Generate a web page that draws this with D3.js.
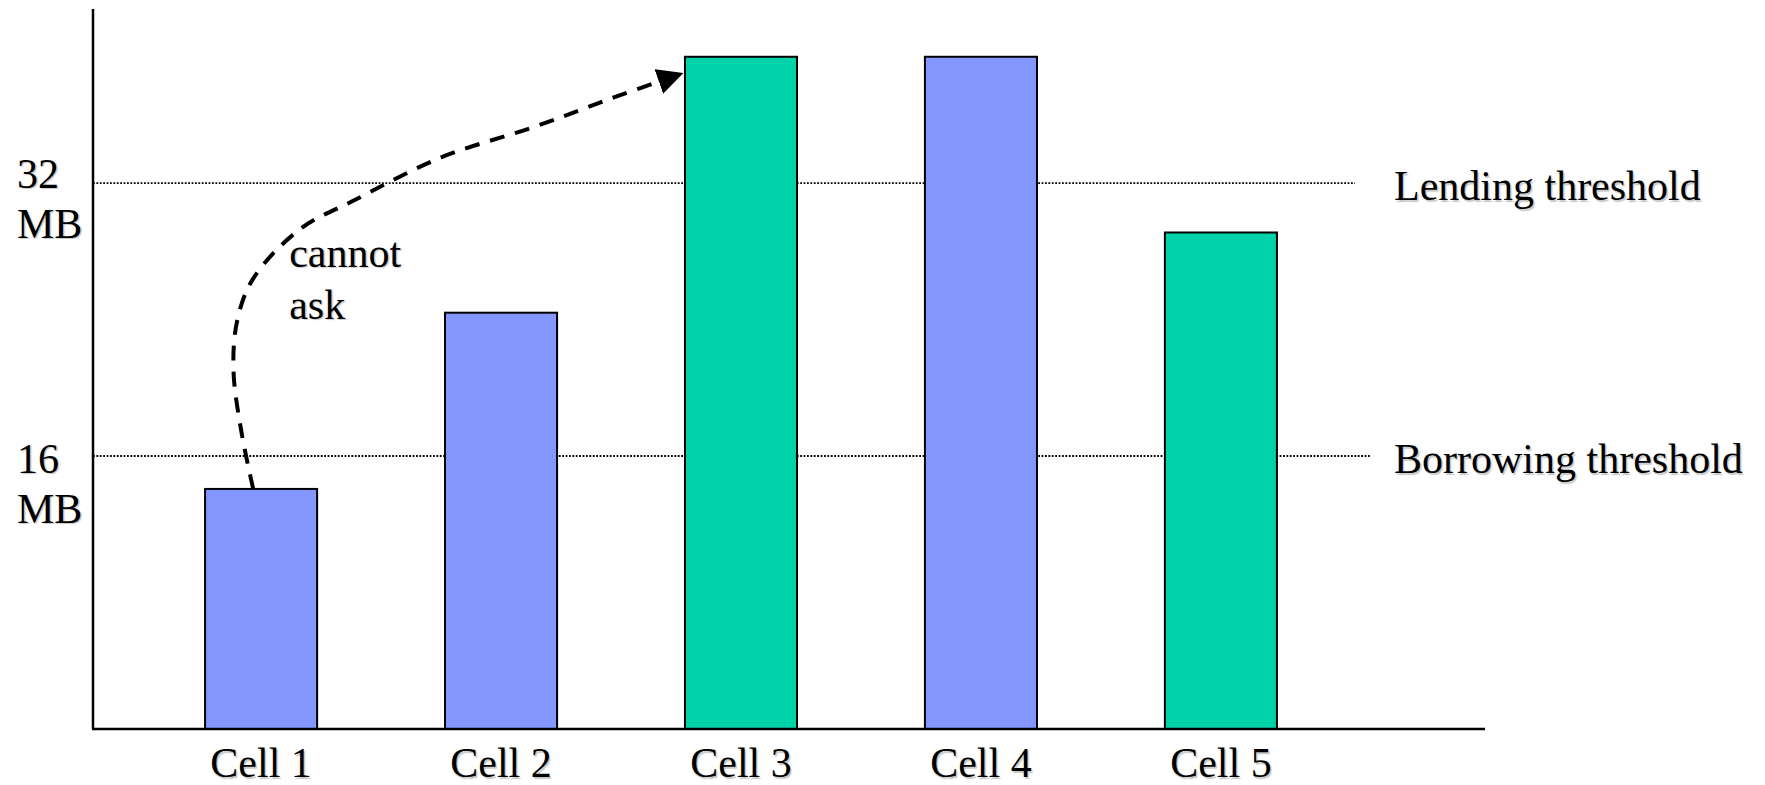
<!DOCTYPE html>
<html>
<head>
<meta charset="utf-8">
<script src="https://cdn.jsdelivr.net/npm/d3@7"></script>
<style>
    body { margin: 0; background: #fff; }
</style>
</head>
<body>
<svg id="chart"></svg>
<script>
const cells = ["Cell 1", "Cell 2", "Cell 3", "Cell 4", "Cell 5"];
const memoryMB = [14.07, 24.4, 39.4, 39.4, 29.1];
const cellRole = ["borrower", "borrower", "lender", "borrower", "lender"];
const thresholds = [
    { value: 32, label: "Lending threshold" },
    { value: 16, label: "Borrowing threshold" }
];
const yTicks = [16, 32];
// annotation path, in [cell index, MB]
const arrowPts = [[-0.033, 14.07], [-0.083, 17.5], [-0.115, 21.0], [-0.1, 23.9], [-0.033, 26.4],
                  [0.1625, 29.3], [0.39, 31.0], [0.75, 33.5], [1.14, 35.3], [1.467, 37.0], [1.76, 38.45]];
const noteLines = ["cannot", "ask"];

const W = 1765, H = 785;
const axisX = 93, axisEnd = 1485;
const FONT = '"Liberation Serif", "Times New Roman", serif';
const SHADOW = "1.5px 1.5px 1px rgba(0,0,0,0.22)";

const serif = sel => sel
    .style("font-family", FONT)
    .style("font-size", "42px")
    .style("fill", "#000")
    .style("text-shadow", SHADOW);

const svg = d3.select("#chart").attr("width", W).attr("height", H);

const x = d3.scaleBand().domain(cells).range([141, 1341]).paddingInner(0.533).paddingOuter(0.267);
const y = d3.scaleLinear().domain([0, 42.2]).range([729, 9]);
const xi = d3.scaleLinear().domain([0, 1])
    .range([x(cells[0]) + x.bandwidth() / 2, x(cells[1]) + x.bandwidth() / 2]);
const color = d3.scaleOrdinal().domain(["borrower", "lender"]).range(["#8497ff", "#00d2aa"]);

// threshold lines
const lineEnds = [1355, 1370];
svg.selectAll(".thr")
    .data(thresholds)
    .enter().append("line")
    .attr("class", "thr")
    .attr("x1", axisX)
    .attr("x2", (d, i) => lineEnds[i])
    .attr("y1", d => y(d.value))
    .attr("y2", d => y(d.value))
    .attr("stroke", "#000")
    .attr("stroke-width", 1.8)
    .attr("stroke-dasharray", "1.8,1.6");

svg.selectAll(".thr-label")
    .data(thresholds)
    .enter().append("text")
    .attr("class", "thr-label")
    .attr("x", 1394)
    .attr("y", d => y(d.value) + 17)
    .call(serif)
    .text(d => d.label);

// bars
svg.selectAll(".bar")
    .data(cells)
    .enter().append("rect")
    .attr("class", "bar")
    .attr("x", d => x(d))
    .attr("y", (d, i) => y(memoryMB[i]))
    .attr("width", x.bandwidth())
    .attr("height", (d, i) => y(0) - y(memoryMB[i]))
    .attr("fill", (d, i) => color(cellRole[i]))
    .attr("stroke", "#000")
    .attr("stroke-width", 2);

// axes
svg.append("g")
    .attr("transform", `translate(0,${y(0)})`)
    .call(d3.axisBottom(x).tickSize(0))
    .call(g => g.select(".domain").remove())
    .selectAll("text")
    .attr("y", 48)
    .attr("dy", 0)
    .call(serif);

const yAxis = svg.append("g")
    .attr("transform", `translate(${axisX},0)`)
    .call(d3.axisLeft(y).tickValues(yTicks).tickSize(0).tickFormat(""))
    .call(g => g.select(".domain").remove());
yAxis.selectAll(".tick text").remove();
yAxis.selectAll(".tick")
    .append("text")
    .attr("x", -76)
    .attr("text-anchor", "start")
    .call(serif)
    .each(function (d) {
        const t = d3.select(this);
        const base = d === 32 ? 4 : 16;
        t.append("tspan").attr("x", -76).attr("y", base).text(d);
        t.append("tspan").attr("x", -76).attr("y", base + 50).text("MB");
    });

svg.append("line")
    .attr("x1", axisX).attr("x2", axisX)
    .attr("y1", y.range()[1]).attr("y2", y(0))
    .attr("stroke", "#000").attr("stroke-width", 2.5);
svg.append("line")
    .attr("x1", axisX - 1).attr("x2", axisEnd)
    .attr("y1", y(0)).attr("y2", y(0))
    .attr("stroke", "#000").attr("stroke-width", 2.5);

// arrow annotation
svg.append("defs").append("marker")
    .attr("id", "head")
    .attr("markerUnits", "userSpaceOnUse")
    .attr("markerWidth", 26).attr("markerHeight", 26)
    .attr("viewBox", "0 0 24 24")
    .attr("refX", 24).attr("refY", 12)
    .attr("orient", "auto")
    .append("path")
    .attr("d", "M0,0 L24,12 L0,24 Z")
    .attr("fill", "#000");

svg.append("path")
    .datum(arrowPts)
    .attr("d", d3.line().x(d => xi(d[0])).y(d => y(d[1])).curve(d3.curveCatmullRom.alpha(0.5)))
    .attr("fill", "none")
    .attr("stroke", "#000")
    .attr("stroke-width", 4)
    .attr("stroke-dasharray", "15,11")
    .attr("marker-end", "url(#head)");

svg.append("text")
    .call(serif)
    .selectAll("tspan")
    .data(noteLines)
    .enter().append("tspan")
    .attr("x", xi(0.117))
    .attr("y", (d, i) => y(27.1) + i * 52)
    .text(d => d);
</script>
</body>
</html>
